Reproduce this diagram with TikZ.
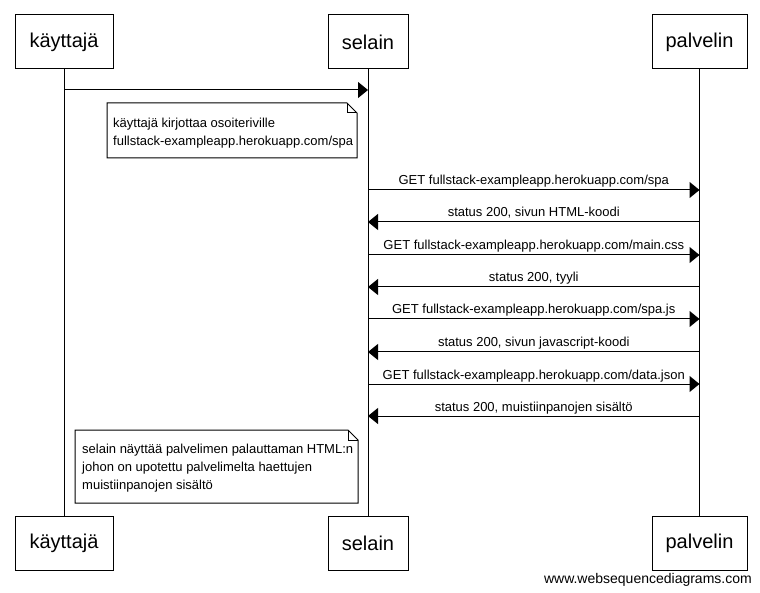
\documentclass[tikz,border=0pt]{standalone}
\usepackage{fontspec}
\setmainfont{Liberation Sans}
\usetikzlibrary{arrows.meta,calc}

\tikzset{
  actor/.style={draw, line width=1pt, minimum width=98pt, minimum height=54pt,
    inner sep=0pt, font=\fontsize{20}{24}\selectfont},
  lifeline/.style={line width=1pt},
  msg/.style={line width=1pt, -{Triangle[length=10pt,width=16pt]}},
  msglabel/.style={anchor=base, inner sep=0pt, font=\fontsize{13}{16}\selectfont},
  notetext/.style={anchor=north west, inner xsep=6pt, inner ysep=0pt,
    align=left, font=\fontsize{13}{18}\selectfont},
  notebox/.style={line width=1pt, fill=white},
}

\begin{document}
\begin{tikzpicture}[x=1pt, y=-1pt]
  \useasboundingbox[fill=white] (0,0) rectangle (760,593);

  % participants, top and bottom
  \node[actor] (kT) at (64,42) {käyttajä};
  \node[actor, minimum width=80pt] (sT) at (368,42) {selain};
  \node[actor, minimum width=95pt] (pT) at (699.5,42) {palvelin};
  \node[actor] (kB) at (64,543) {käyttajä};
  \node[actor, minimum width=80pt] (sB) at (368,543) {selain};
  \node[actor, minimum width=95pt] (pB) at (699.5,543) {palvelin};

  \draw[lifeline] (kT) -- (kB);
  \draw[lifeline] (sT) -- (sB);
  \draw[lifeline] (pT) -- (pB);

  % user types the address
  \coordinate (m0k) at (kT |- 0,90);
  \coordinate (m0s) at (sT |- 0,90);
  \draw[msg] (m0k) -- (m0s);

  % first note
  \draw[notebox] (107,103) -- (347,103) -- (357,113) -- (357,158) -- (107,158) -- cycle;
  \draw[line width=1pt] (347,103) -- (347,113) -- (357,113);
  \node[notetext] (n1) at (107,117.5) {käyttajä kirjottaa osoiteriville\\fullstack-exampleapp.herokuapp.com/spa};

  % request / response pairs
  \foreach \y/\dir/\txt [count=\i] in {
      190/r/{GET fullstack-exampleapp.herokuapp.com/spa},
      222/l/{status 200, sivun HTML-koodi},
      255/r/{GET fullstack-exampleapp.herokuapp.com/main.css},
      287/l/{status 200, tyyli},
      319/r/{GET fullstack-exampleapp.herokuapp.com/spa.js},
      352/l/{status 200, sivun javascript-koodi},
      384/r/{GET fullstack-exampleapp.herokuapp.com/data.json},
      416/l/{status 200, muistiinpanojen sisältö}} {
    \coordinate (s\i) at (sT |- 0,\y);
    \coordinate (p\i) at (pT |- 0,\y);
    \if r\dir
      \draw[msg] (s\i) -- (p\i);
    \else
      \draw[msg] (p\i) -- (s\i);
    \fi
    \node[msglabel] (l\i) at ($(s\i)!0.5!(p\i)+(0,-5)$) {\txt};
  }

  % closing note
  \draw[notebox] (75,430) -- (348,430) -- (358,440) -- (358,503) -- (75,503) -- cycle;
  \draw[line width=1pt] (348,430) -- (348,440) -- (358,440);
  \node[notetext] (n2) at (76,443.5) {selain näyttää palvelimen palauttaman HTML:n\\johon on upotettu palvelimelta haettujen\\muistiinpanojen sisältö};

  % footer
  \node[anchor=base east, inner sep=0pt, font=\fontsize{14}{17}\selectfont] (footer) at (752,583) {www.websequencediagrams.com};
\end{tikzpicture}
\end{document}
